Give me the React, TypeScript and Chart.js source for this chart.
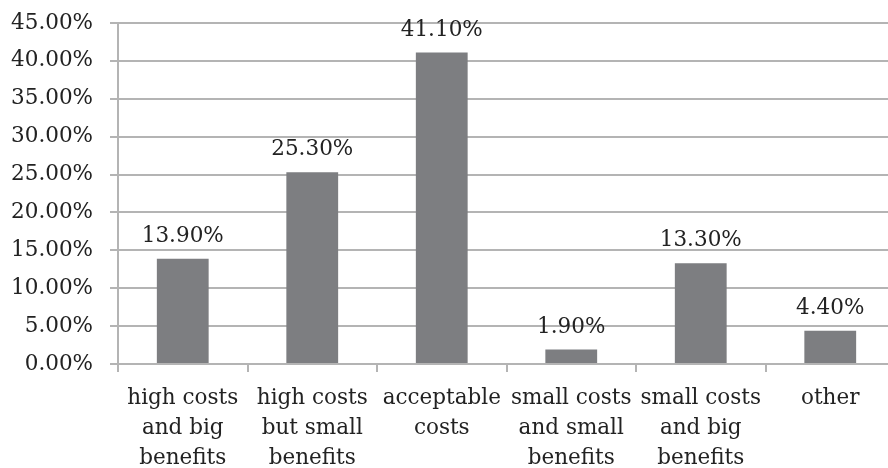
import React, { useEffect, useRef } from "react";
import { Chart, registerables } from "chart.js";

Chart.register(...registerables);

const categories: string[][] = [
  ["high costs", "and big", "benefits"],
  ["high costs", "but small", "benefits"],
  ["acceptable", "costs"],
  ["small costs", "and small", "benefits"],
  ["small costs", "and big", "benefits"],
  ["other"],
];
const values: number[] = [13.9, 25.3, 41.1, 1.9, 13.3, 4.4];
const yMin = 0;
const yMax = 45;
const yStep = 5;

const FONT = "'DejaVu Serif', serif";
const TEXT = "#222222";
const GRID = "#b4b4b4";

const valueLabels = {
  id: "valueLabels",
  afterDatasetsDraw(chart: any) {
    const ctx = chart.ctx;
    const meta = chart.getDatasetMeta(0);
    ctx.save();
    ctx.font = `21.5px ${FONT}`;
    ctx.fillStyle = TEXT;
    ctx.textAlign = "center";
    ctx.textBaseline = "alphabetic";
    meta.data.forEach((bar: any, i: number) => {
      const v = chart.data.datasets[0].data[i] as number;
      ctx.fillText(v.toFixed(2) + "%", bar.x, bar.y - 17);
    });
    ctx.restore();
  },
};

export default function App() {
  const ref = useRef<HTMLCanvasElement>(null);
  useEffect(() => {
    if (!ref.current) return;
    const chart = new Chart(ref.current, {
      type: "bar",
      data: {
        labels: categories,
        datasets: [
          {
            data: values,
            backgroundColor: "#7d7e81",
            barPercentage: 0.4,
            categoryPercentage: 1,
          },
        ],
      },
      options: {
        animation: false,
        responsive: false,
        devicePixelRatio: 1,
        layout: { padding: { top: 23, right: 1, left: 0, bottom: 0 } },
        plugins: { legend: { display: false }, tooltip: { enabled: false } },
        scales: {
          x: {
            grid: {
              offset: true,
              drawOnChartArea: false,
              drawTicks: true,
              tickLength: 8,
              color: GRID,
              lineWidth: 2,
            },
            border: { color: GRID, width: 2 },
            ticks: {
              color: TEXT,
              font: { family: FONT, size: 21.5, lineHeight: 1.4 },
              padding: 11,
              maxRotation: 0,
              autoSkip: false,
            },
            afterFit: (s: any) => {
              s.height = 104;
              s.paddingLeft = 0;
              s.paddingRight = 0;
            },
          },
          y: {
            min: yMin,
            max: yMax,
            grid: { color: GRID, lineWidth: 2, tickLength: 8, drawTicks: true },
            border: { color: GRID, width: 2 },
            ticks: {
              stepSize: yStep,
              color: TEXT,
              font: { family: FONT, size: 21.5 },
              padding: 17,
              callback: (v: any) => Number(v).toFixed(2) + "%",
            },
            afterFit: (s: any) => {
              s.width = 118;
              s.paddingTop = 0;
              s.paddingBottom = 0;
            },
          },
        },
      },
      plugins: [valueLabels],
    });
    return () => chart.destroy();
  }, []);
  return (
    <div
      style={{
        position: "fixed",
        left: 0,
        top: 0,
        width: 888,
        height: 468,
        overflow: "hidden",
        background: "#fff",
      }}
    >
      <canvas ref={ref} width={896} height={468} style={{ display: "block" }} />
    </div>
  );
}
